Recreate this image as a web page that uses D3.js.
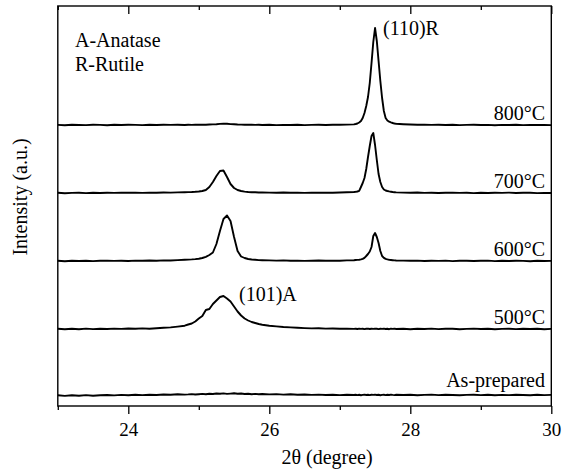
<!DOCTYPE html>
<html>
<head>
<meta charset="utf-8">
<script src="https://cdn.jsdelivr.net/npm/d3@7"></script>
<style>
  body { margin: 0; background: #fff; }
  text { font-family: "Liberation Serif", "Times New Roman", serif; fill: #000; }
</style>
</head>
<body>
<div id="chart"></div>
<script>
// 2theta grid (degree), denser around the anatase (101) and rutile (110) peaks
var twoTheta = [23.0,23.1,23.2,23.3,23.4,23.5,23.6,23.7,23.8,23.9,24.0,24.1,24.2,24.3,24.4,24.5,24.6,24.7,24.8,
  24.85,24.9,24.95,25.0,25.05,25.1,25.15,25.2,25.25,25.3,25.35,25.4,25.45,25.5,25.55,25.6,25.65,25.7,25.75,25.8,25.85,25.9,
  26.0,26.1,26.2,26.3,26.4,26.5,26.6,26.7,26.8,26.9,27.0,27.1,27.2,
  27.225,27.25,27.275,27.3,27.325,27.35,27.375,27.4,27.425,27.45,27.475,27.5,27.525,27.55,27.575,27.6,27.625,27.65,27.675,27.7,27.725,27.75,27.775,27.8,
  27.9,28.0,28.1,28.2,28.3,28.4,28.5,28.6,28.7,28.8,28.9,29.0,29.1,29.2,29.3,29.4,29.5,29.6,29.7,29.8,29.9,30.0];

var sampleNames = ["As-prepared", "500°C", "600°C", "700°C", "800°C"];
// vertical stacking of the patterns (a.u.)
var offsets = [10.5, 77, 145, 213, 281];

var asPrepared = [0.3,-0.4,0.2,-0.3,0.4,-0.2,0.3,0.5,0.1,0.6,0.3,0.7,0.4,0.8,0.5,1.0,0.7,1.2,0.9,
  1.1,1.4,1.0,1.3,1.6,1.2,1.8,1.5,2.0,1.7,2.1,1.6,1.9,2.2,1.7,2.0,1.5,1.8,1.3,1.6,1.2,1.5,
  1.1,1.4,0.9,1.2,0.7,1.0,0.6,0.9,0.5,0.8,0.4,0.7,0.5,
  0.8,0.4,0.7,0.3,0.6,0.9,0.5,0.7,0.4,0.8,0.6,0.9,0.5,0.7,0.3,0.6,0.8,0.4,0.7,0.5,0.9,0.6,0.4,0.7,
  0.5,0.8,0.3,0.6,0.9,0.4,0.7,0.5,0.2,0.6,0.8,0.4,0.7,0.3,0.6,0.4,0.8,0.5,0.3,0.7,0.4,0.6];

var s500 = [0.2,-0.3,0.3,-0.2,0.4,-0.1,0.3,0.0,0.4,0.1,0.5,0.2,0.6,0.3,0.8,1.2,1.6,2.4,3.3,
  4.5,5.5,7.5,10.5,13,19,20,25,28.5,32,33,30.5,27.5,22.5,17.5,13.5,10.5,8.5,7,6,5,4.3,
  3.3,2.6,2.0,1.6,1.2,0.9,0.6,0.7,0.4,0.5,0.2,0.4,0.1,
  0.3,0.0,0.4,0.1,0.3,-0.1,0.2,0.4,0.0,0.3,0.1,0.4,0.2,-0.1,0.3,0.1,0.4,0.0,0.2,-0.2,0.3,0.1,0.4,0.0,
  0.2,-0.2,0.3,0.0,0.4,-0.1,0.2,0.3,-0.2,0.1,0.4,0.0,0.2,-0.3,0.1,0.3,-0.1,0.2,0.0,0.3,-0.2,0.1];

var s600 = [0.2,-0.2,0.3,0.0,0.3,-0.1,0.2,0.4,0.1,0.3,0.0,0.4,0.2,0.5,0.3,0.6,0.5,0.9,1.2,
  1.4,1.6,1.9,2.3,3,4.2,6,8.5,17,30,42,45.5,40,24,10,4.5,3,2,1.5,1.2,0.9,0.8,
  0.6,0.4,0.6,0.2,0.4,0.1,0.3,0.5,0.2,0.4,0.3,0.6,0.8,
  1.0,1.1,1.3,1.6,2.2,3.2,5,7,9.5,14,25,28,24,18,10,5,3.2,2.2,1.6,1.2,1.0,0.8,0.6,0.5,
  0.4,0.2,0.4,0.0,0.3,0.1,0.4,-0.1,0.2,0.3,0.0,0.2,0.4,-0.1,0.2,0.0,0.3,0.1,-0.2,0.2,0.0,0.1];

var s700 = [0.2,-0.2,0.1,0.3,-0.1,0.2,0.0,0.3,0.1,0.4,0.2,0.3,0.1,0.4,0.3,0.5,0.4,0.6,0.8,
  0.9,1.0,1.2,1.5,2,3,6,11,17,22,22.5,16,9,5,3,2,1.4,1.0,0.8,0.7,0.5,0.6,
  0.4,0.3,0.5,0.2,0.4,0.1,0.3,0.2,0.4,0.3,0.5,0.7,1.0,
  1.2,1.5,2.2,6,10,15,24,36,47,57,60,48,33,19,11,6,3.5,2.5,2,1.6,1.3,1.0,0.8,0.6,
  0.4,0.2,0.5,0.1,0.3,0.0,0.2,0.4,0.1,0.3,-0.1,0.2,0.0,0.3,0.1,0.4,0.0,0.2,0.3,-0.1,0.1,0.0];

var s800 = [0.1,-0.2,0.2,0.0,-0.1,0.2,0.1,-0.2,0.2,0.0,0.3,0.1,-0.1,0.2,0.0,0.3,0.1,0.2,0.0,
  0.2,0.1,0.3,0.2,0.4,0.3,0.5,0.6,0.8,1.1,1.3,1.2,0.9,0.7,0.5,0.4,0.3,0.2,0.3,0.1,0.2,0.0,
  0.2,-0.1,0.1,0.0,0.2,-0.1,0.1,0.2,0.0,0.3,0.2,0.4,0.6,
  1.0,1.5,2.5,4,7,12,19,28,42,62,83,97,84,64,44,27,14,7,4.5,3.3,2.6,2.0,1.5,1.2,
  0.8,0.5,0.3,0.4,0.1,0.2,0.0,0.2,-0.1,0.1,0.2,0.0,0.1,-0.2,0.1,0.0,0.2,-0.1,0.1,0.0,0.1,-0.1];

var patterns = [asPrepared, s500, s600, s700, s800];
var xTicksMajor = [24, 26, 28, 30];
var xTicksMinor = [23, 25, 27, 29];

var width = 563, height = 473;
var plotLeft = 57.8, plotRight = 551.3, plotTop = 6, plotBottom = 406;

var svg = d3.select("#chart")
  .append("svg")
    .attr("width", width)
    .attr("height", height);

var x = d3.scaleLinear().domain([23, 30]).range([plotLeft, plotRight]);
var y = d3.scaleLinear().domain([0, 400]).range([plotBottom, plotTop]);

// patterns
patterns.forEach(function(vals, i) {
  var line = d3.line()
    .x(function(d, j) { return x(twoTheta[j]); })
    .y(function(d) { return y(d + offsets[i]); });

  svg.append("path")
    .datum(vals)
    .attr("fill", "none")
    .attr("stroke", "#000")
    .attr("stroke-width", 1.9)
    .attr("stroke-linejoin", "round")
    .attr("d", line);

  svg.append("text")
    .attr("x", 545)
    .attr("y", y(offsets[i]) - (i == 0 ? 8.5 : 5))
    .attr("text-anchor", "end")
    .style("font-size", "20px")
    .text(sampleNames[i]);
});

// axes: bottom ticks point out, top ticks point in
function styleAxis(g) {
  g.select(".domain").remove();
  g.selectAll("line").attr("stroke", "#000").attr("stroke-width", 1.3);
}

svg.append("g")
  .attr("transform", "translate(0," + plotBottom + ")")
  .call(d3.axisBottom(x).tickValues(xTicksMajor).tickSize(8).tickFormat(d3.format("d")))
  .call(styleAxis)
  .call(function(g) {
    g.selectAll("text").attr("y", 30).attr("dy", 0)
      .style("font-size", "19px").style("font-family", "'Liberation Serif', serif").attr("fill", "#000");
  });

svg.append("g")
  .attr("transform", "translate(0," + plotBottom + ")")
  .call(d3.axisBottom(x).tickValues(xTicksMinor).tickSize(4).tickFormat(""))
  .call(styleAxis);

svg.append("g")
  .attr("transform", "translate(0," + plotTop + ")")
  .call(d3.axisTop(x).tickValues(xTicksMajor).tickSize(-8).tickFormat(""))
  .call(styleAxis);

svg.append("g")
  .attr("transform", "translate(0," + plotTop + ")")
  .call(d3.axisTop(x).tickValues(xTicksMinor).tickSize(-4).tickFormat(""))
  .call(styleAxis);

// frame
svg.append("rect")
  .attr("x", plotLeft)
  .attr("y", plotTop)
  .attr("width", plotRight - plotLeft)
  .attr("height", plotBottom - plotTop)
  .attr("fill", "none")
  .attr("stroke", "#000")
  .attr("stroke-width", 1.4);

// titles
svg.append("text")
  .attr("x", 327)
  .attr("y", 464)
  .attr("text-anchor", "middle")
  .style("font-size", "20px")
  .text("2θ (degree)");

svg.append("text")
  .attr("transform", "translate(27,197) rotate(-90)")
  .attr("text-anchor", "middle")
  .style("font-size", "20px")
  .text("Intensity (a.u.)");

// phase legend and peak labels
svg.append("text").attr("x", 75).attr("y", 47).style("font-size", "20px").text("A-Anatase");
svg.append("text").attr("x", 75).attr("y", 71).style("font-size", "20px").text("R-Rutile");
svg.append("text").attr("x", x(27.613)).attr("y", y(371)).style("font-size", "20px").text("(110)R");
svg.append("text").attr("x", x(25.57)).attr("y", y(105)).style("font-size", "20px").text("(101)A");
</script>
</body>
</html>
